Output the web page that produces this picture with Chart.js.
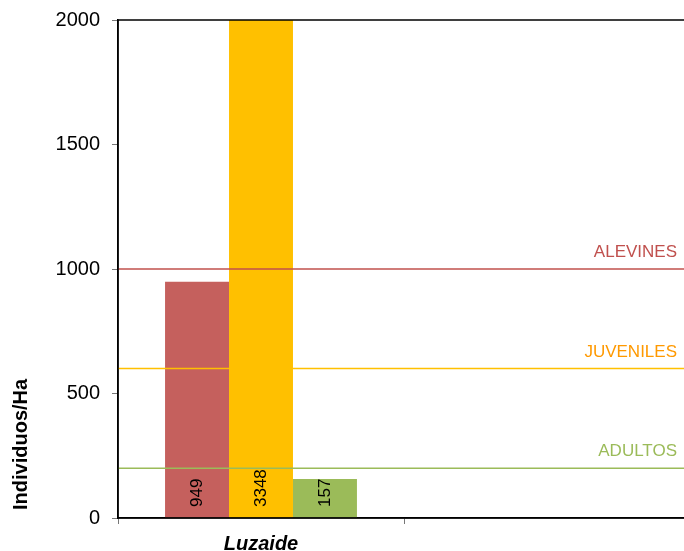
<!DOCTYPE html>
<html>
<head>
<meta charset="utf-8">
<script src="https://cdn.jsdelivr.net/npm/chart.js@4"></script>
<style>
  html, body { margin: 0; padding: 0; background: #fff; overflow: hidden; }
  #wrap { width: 700px; height: 551px; }
</style>
</head>
<body>
<div id="wrap"><canvas id="chart"></canvas></div>
<script>
// ── Data ─────────────────────────────────────────────────────────────────────
const categories = ['Luzaide', ''];
const alevines = [949, null];
const juveniles = [3348, null];
const adultos = [157, null];
const yTicks = [0, 500, 1000, 1500, 2000];
const yTitle = 'Individuos/Ha';

// reference levels drawn as horizontal lines
const refNames = ['ALEVINES', 'JUVENILES', 'ADULTOS'];
const refValues = [1000, 600, 200];
const refLineColors = ['#c0504d', '#ffc000', '#9bbb59'];
const refTextColors = ['#c0504d', '#ff9900', '#9bbb59'];

const FONT = "'Liberation Sans', Arial, sans-serif";

// ── Plugins ──────────────────────────────────────────────────────────────────
const frame = {
    id: 'frame',
    afterDraw(chart) {
        const { ctx, chartArea: a } = chart;
        ctx.save();
        ctx.strokeStyle = '#000';
        ctx.lineWidth = 1.5;
        ctx.strokeRect(a.left, a.top, a.right - a.left, a.bottom - a.top);
        // y axis title, sitting low along the axis
        ctx.fillStyle = '#000';
        ctx.font = 'bold 20px ' + FONT;
        ctx.textAlign = 'left';
        ctx.textBaseline = 'middle';
        ctx.translate(21, a.bottom - 8);
        ctx.rotate(-Math.PI / 2);
        ctx.fillText(yTitle, 0, 0);
        ctx.restore();
    }
};

const refLines = {
    id: 'refLines',
    afterDatasetsDraw(chart) {
        const { ctx, chartArea: a, scales: { y } } = chart;
        ctx.save();
        refValues.forEach((v, i) => {
            const py = y.getPixelForValue(v);
            ctx.strokeStyle = refLineColors[i];
            ctx.lineWidth = 1.5;
            ctx.beginPath();
            ctx.moveTo(a.left, py);
            ctx.lineTo(a.right, py);
            ctx.stroke();
            ctx.fillStyle = refTextColors[i];
            ctx.font = '17px ' + FONT;
            ctx.textAlign = 'right';
            ctx.textBaseline = 'alphabetic';
            ctx.fillText(refNames[i], a.right - 13, py - 12);
        });
        ctx.restore();
    }
};

const barValues = {
    id: 'barValues',
    afterDatasetsDraw(chart) {
        const { ctx, scales: { y } } = chart;
        ctx.save();
        ctx.fillStyle = '#000';
        ctx.font = '17px ' + FONT;
        ctx.textAlign = 'left';
        ctx.textBaseline = 'middle';
        chart.data.datasets.forEach((ds, di) => {
            chart.getDatasetMeta(di).data.forEach((el, i) => {
                const v = ds.data[i];
                if (v == null) return;
                ctx.save();
                ctx.translate(el.x, y.getPixelForValue(0) - 11);
                ctx.rotate(-Math.PI / 2);
                ctx.fillText(String(v), 0, 0);
                ctx.restore();
            });
        });
        ctx.restore();
    }
};

// ── Chart ────────────────────────────────────────────────────────────────────
new Chart(document.getElementById('chart'), {
    type: 'bar',
    data: {
        labels: categories,
        datasets: [
            { label: 'Alevines', data: alevines, backgroundColor: '#c5605d' },
            { label: 'Juveniles', data: juveniles, backgroundColor: '#ffc000' },
            { label: 'Adultos', data: adultos, backgroundColor: '#9bbb59' }
        ]
    },
    options: {
        responsive: true,
        maintainAspectRatio: false,
        animation: false,
        layout: { padding: { top: 20, right: 10, left: 0, bottom: 0 } },
        datasets: { bar: { barPercentage: 1, categoryPercentage: 0.671 } },
        plugins: { legend: { display: false }, tooltip: { enabled: false } },
        scales: {
            x: {
                grid: { drawOnChartArea: false, tickLength: 6, color: '#777', offset: true },
                border: { color: '#000', width: 1.5 },
                ticks: { color: '#000', padding: 8, font: { family: FONT, size: 20, weight: 'bold', style: 'italic' } },
                afterFit(s) { s.height = 33; }
            },
            y: {
                min: 0, max: 2000,
                afterBuildTicks(s) { s.ticks = yTicks.map(v => ({ value: v })); },
                grid: { drawOnChartArea: false, tickLength: 6, color: '#777' },
                border: { color: '#000', width: 1.5 },
                ticks: {
                    color: '#000', padding: 12,
                    font: { family: FONT, size: 20 },
                    callback: v => String(v)
                },
                afterFit(s) { s.width = 118; s.paddingTop = 0; s.paddingBottom = 0; }
            }
        }
    },
    plugins: [frame, refLines, barValues]
});
</script>
</body>
</html>
